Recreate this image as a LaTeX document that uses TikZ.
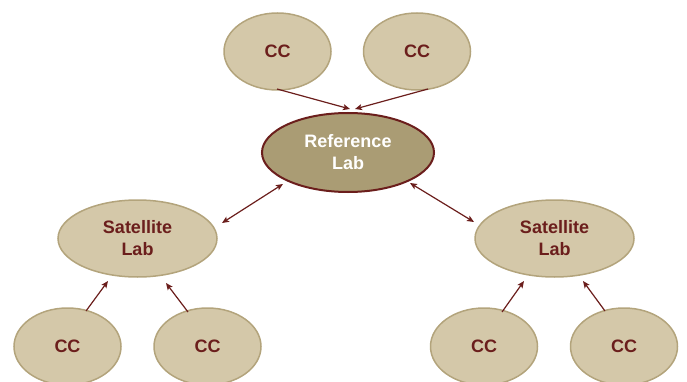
\documentclass[tikz,border=0pt]{standalone}
\usepackage{fontspec}
\setmainfont{Liberation Sans}
\usetikzlibrary{shapes.geometric,arrows.meta,calc}
\definecolor{lightfill}{HTML}{D4C8A9}
\definecolor{lightedge}{HTML}{B3A47C}
\definecolor{reffill}{HTML}{AA9C74}
\definecolor{darkred}{HTML}{6B1E1C}
\tikzset{
  ccnode/.style={ellipse, draw=lightedge, line width=1.5pt, fill=lightfill, minimum width=107pt, minimum height=77pt, inner sep=0pt, text=darkred, font=\fontsize{18}{22}\selectfont\bfseries, align=center},
  satnode/.style={ccnode, minimum width=159pt, minimum height=77pt},
  refnode/.style={ellipse, draw=darkred, line width=2pt, fill=reffill, minimum width=172pt, minimum height=79pt, inner sep=0pt, text=white, font=\fontsize{18}{22}\selectfont\bfseries, align=center},
  arr/.style={draw=darkred, line width=1.2pt, -{Stealth[length=7pt,width=6pt,inset=1.5pt]}},
  darr/.style={draw=darkred, line width=1.2pt, {Stealth[length=7pt,width=6pt,inset=1.5pt]}-{Stealth[length=7pt,width=6pt,inset=1.5pt]}}
}
\begin{document}
\begin{tikzpicture}[x=1pt,y=1pt]
\useasboundingbox (0,0) rectangle (687,-382);
\node[ccnode] (ccTL) at (277.5,-51.5) {CC};
\node[ccnode] (ccTR) at (417,-51.5) {CC};
\node[refnode] (ref) at (348,-152.5) {Reference\\Lab};
\node[satnode] (satL) at (137.5,-238.5) {Satellite\\Lab};
\node[satnode] (satR) at (554.5,-238.5) {Satellite\\Lab};
\node[ccnode] (ccB1) at (67.5,-346.5) {CC};
\node[ccnode] (ccB2) at (207.5,-346.5) {CC};
\node[ccnode] (ccB3) at (484,-346.5) {CC};
\node[ccnode] (ccB4) at (624,-346.5) {CC};
\draw[arr] ($(ccTL)+(-0.5,-37.5)$) -- ($(ref)+(2,43.5)$);
\draw[arr] ($(ccTR)+(11,-37.5)$) -- ($(ref)+(7,43.5)$);
\draw[darr] ($(satL)+(84.5,15.5)$) -- ($(ref)+(-65,-31.5)$);
\draw[darr] ($(ref)+(62,-30.5)$) -- ($(satR)+(-80.5,16.5)$);
\draw[arr] ($(ccB1)+(18.5,35.5)$) -- ($(satL)+(-29.5,-42.5)$);
\draw[arr] ($(ccB2)+(-19.5,34.5)$) -- ($(satL)+(28.5,-44.5)$);
\draw[arr] ($(ccB3)+(18,34.5)$) -- ($(satR)+(-30.5,-42.5)$);
\draw[arr] ($(ccB4)+(-19,35.5)$) -- ($(satR)+(28.5,-42.5)$);
\end{tikzpicture}
\end{document}
